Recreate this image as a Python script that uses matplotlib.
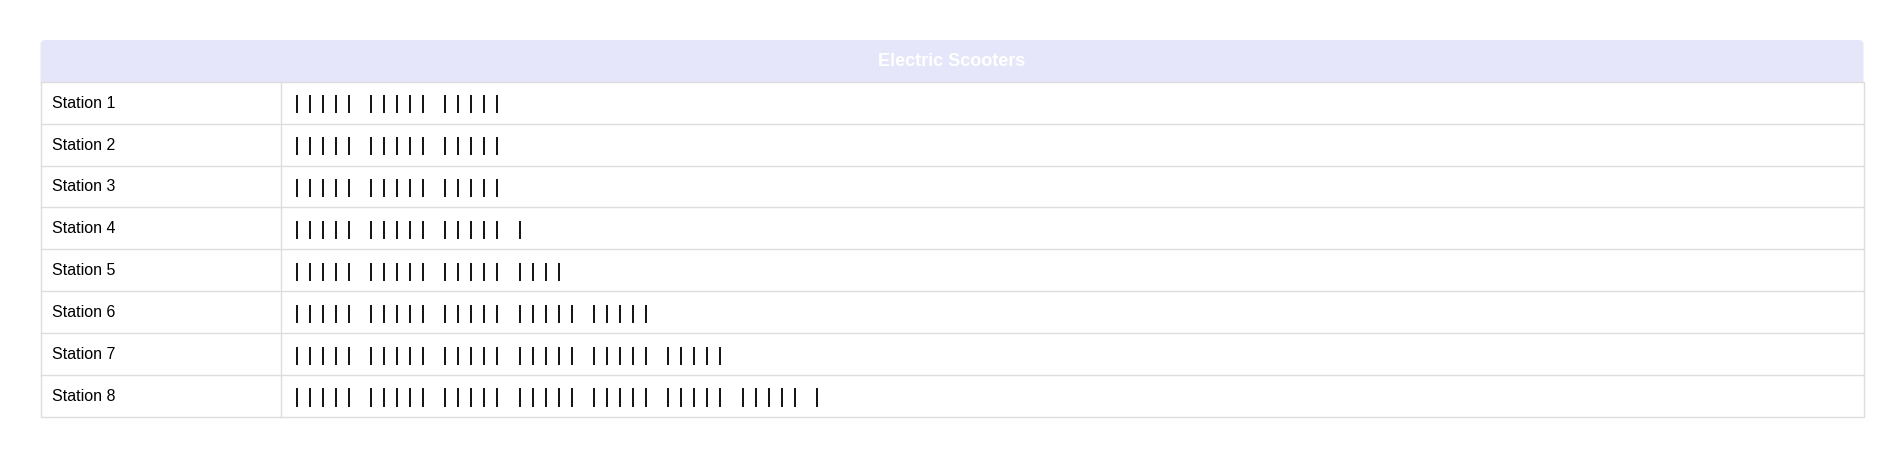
import matplotlib.pyplot as plt
from matplotlib.patches import FancyBboxPatch, Rectangle

# data
title = "Electric Scooters"
stations = ["Station 1", "Station 2", "Station 3", "Station 4",
            "Station 5", "Station 6", "Station 7", "Station 8"]
counts = [15, 15, 15, 16, 19, 25, 30, 36]

W, H = 1904, 458
fig = plt.figure(figsize=(W / 100, H / 100), dpi=100)
ax = fig.add_axes([0, 0, 1, 1])
ax.set_xlim(0, W)
ax.set_ylim(H, 0)
ax.axis('off')

# table layout (pixels)
left, right = 40.5, 1863.5
top, head_h = 40, 41.7
row_h = 41.9
col_x = 281
border = '#dddddd'
font = ['Liberation Sans', 'DejaVu Sans']

# header with rounded top corners
ax.add_patch(FancyBboxPatch((left, top), right - left, head_h + 6,
                            boxstyle='round,pad=0,rounding_size=5',
                            facecolor='#e6e6fa', edgecolor='none', zorder=1))
ax.add_patch(Rectangle((left, top + head_h), right - left, row_h * len(stations),
                       facecolor='white', edgecolor=border, lw=1, zorder=2))
ax.text((left + right) / 2, top + head_h / 2 + 0.5, title, ha='center', va='center',
        color='white', fontsize=13, fontweight='bold', family=font, zorder=3)

for i, (name, n) in enumerate(zip(stations, counts)):
    y0 = top + head_h + i * row_h
    yc = y0 + row_h / 2
    if i > 0:
        ax.plot([left, right], [y0, y0], color=border, lw=1, zorder=3)
    ax.text(left + 11, yc + 0.5, name, ha='left', va='center', fontsize=11.5,
            color='black', family=font, zorder=3)
    # tally marks in groups of five
    xs = [col_x + 15.7 + (k // 5) * 74.3 + (k % 5) * 13 for k in range(n)]
    ax.vlines(xs, yc - 7.5, yc + 10.8, color='#111111', lw=1.4, zorder=3)

ax.plot([col_x, col_x], [top + head_h, top + head_h + row_h * len(stations)],
        color=border, lw=1, zorder=3)

fig.savefig('out.png', dpi=100, facecolor='white')
